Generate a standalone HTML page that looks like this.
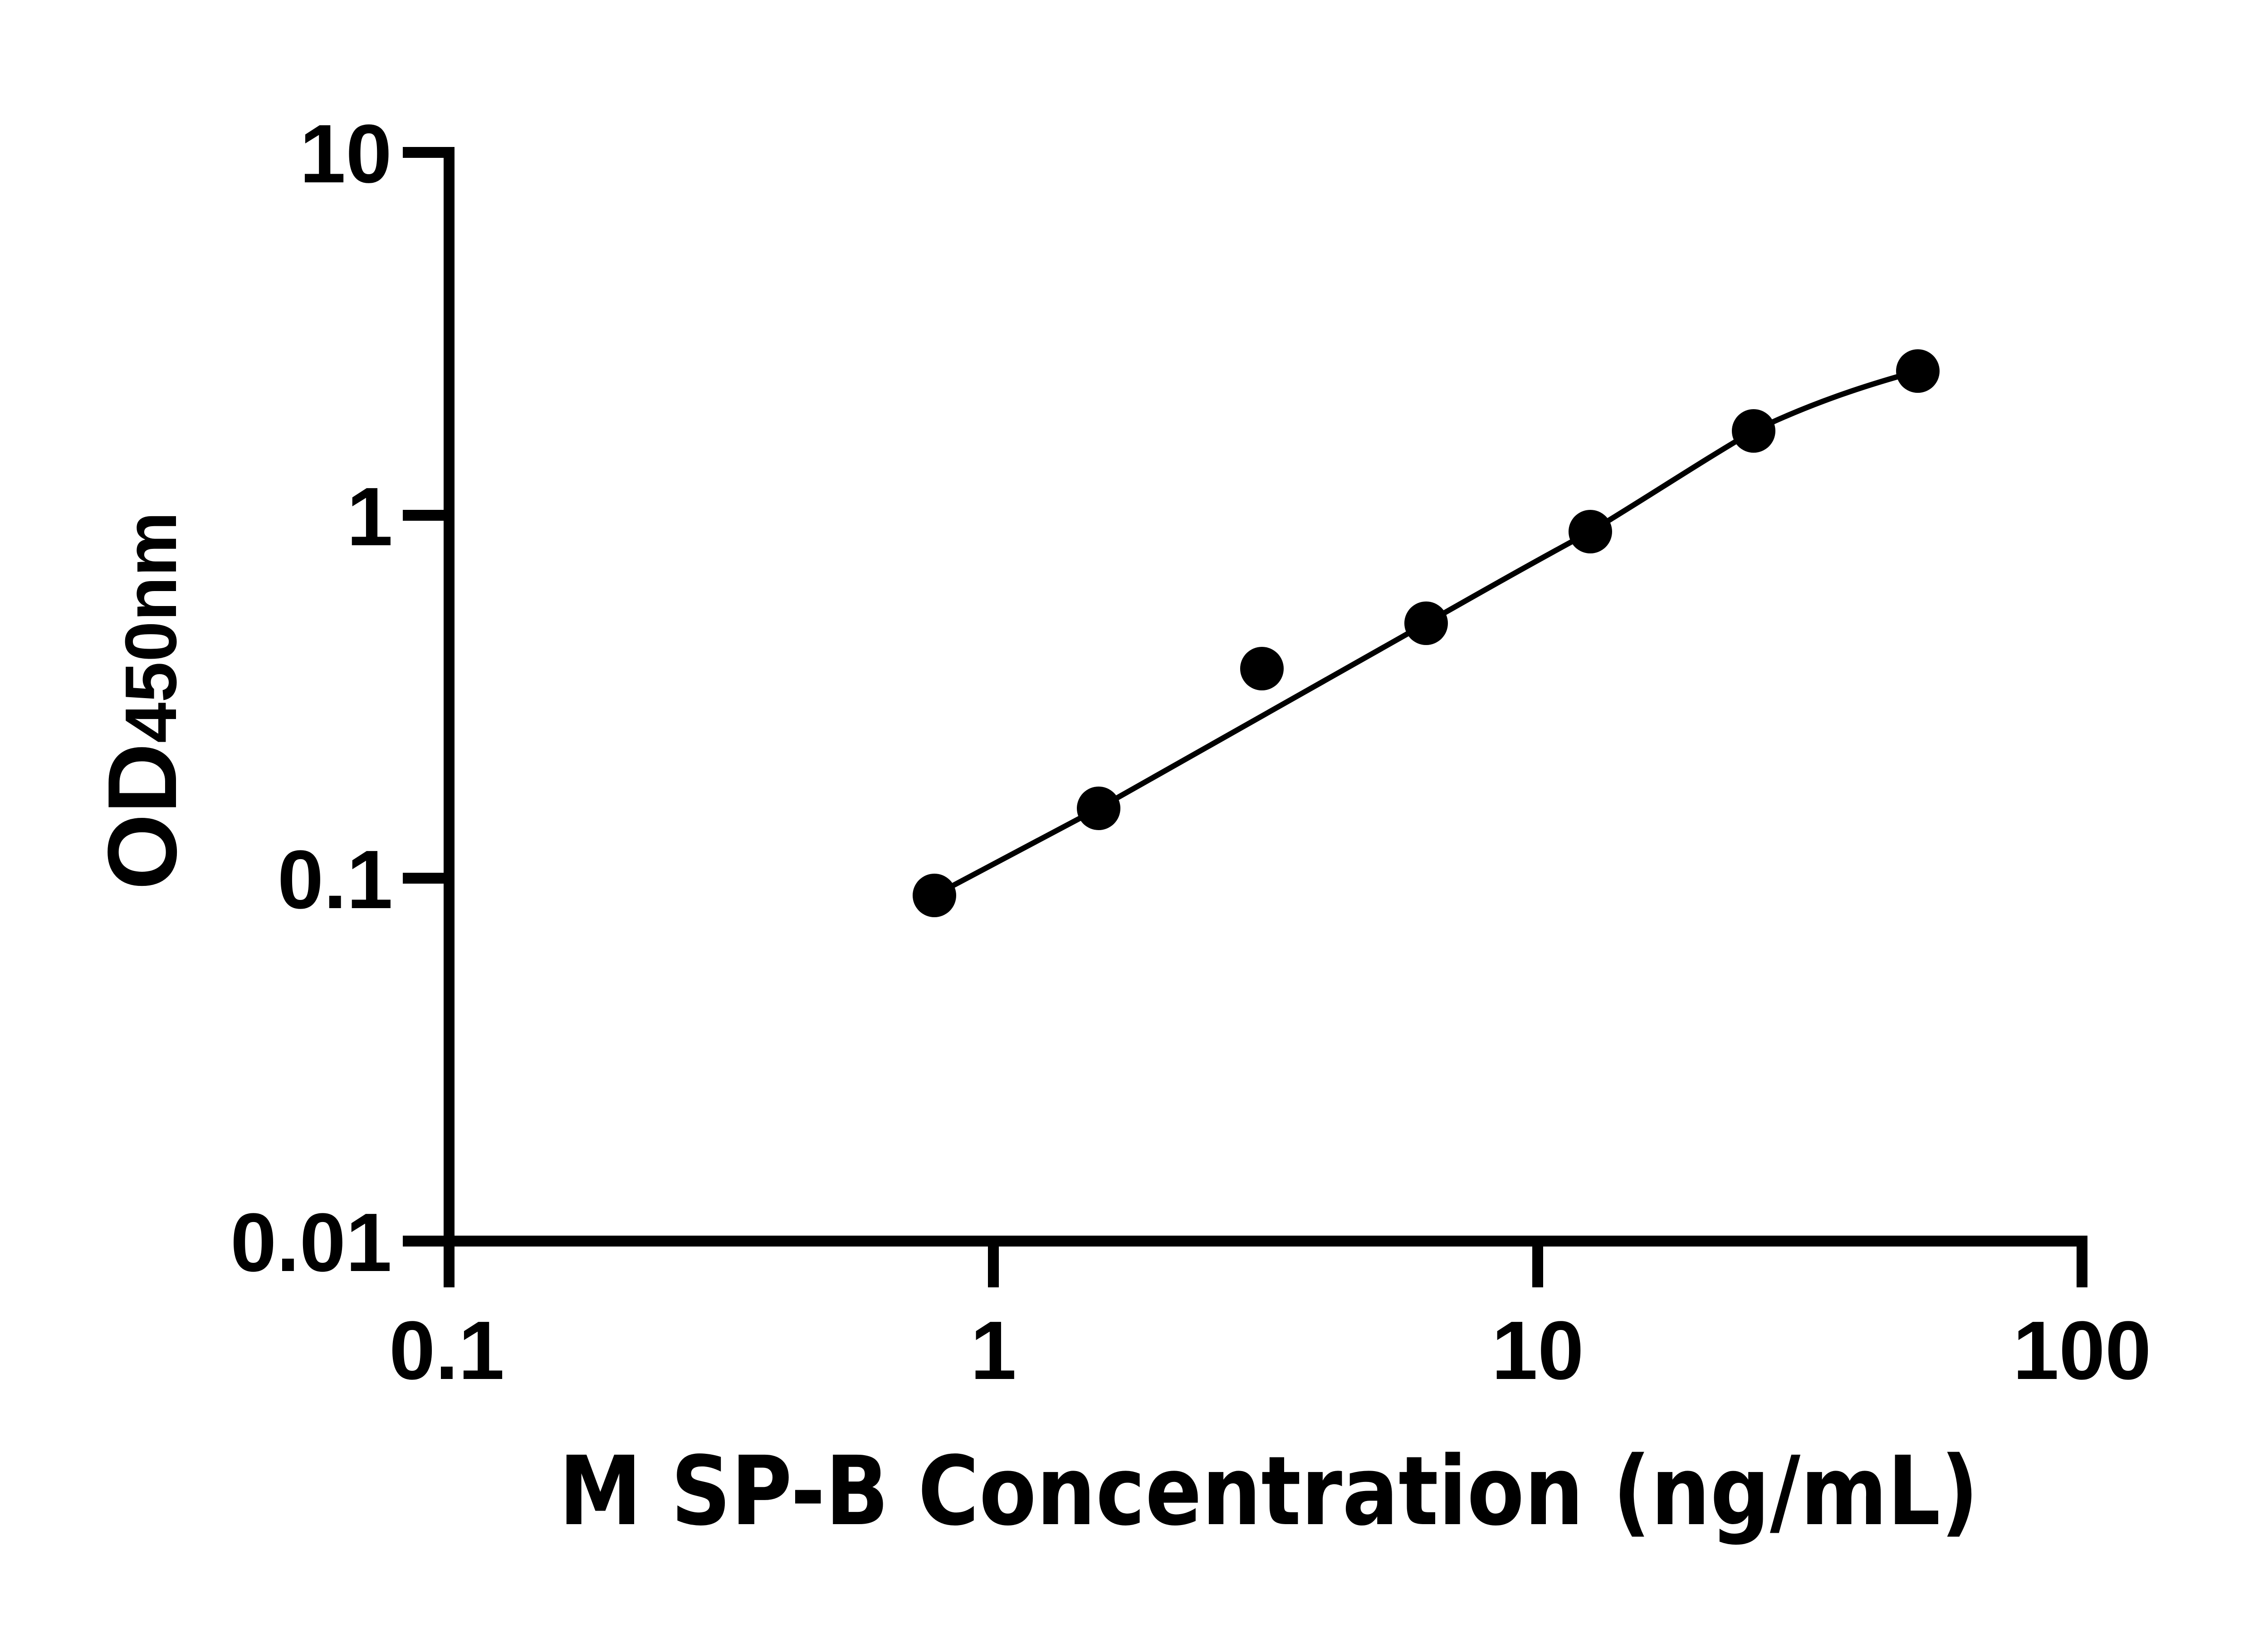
<!DOCTYPE html>
<html><head><meta charset="utf-8"><style>html,body{margin:0;padding:0;background:#fff}svg{display:block}.l{font-family:"Liberation Sans",Arial,sans-serif;font-weight:bold}.d{font-family:"DejaVu Sans",sans-serif;font-weight:bold}</style></head>
<body>
<svg width="5142" height="3600" viewBox="0 0 5142 3600" xmlns="http://www.w3.org/2000/svg">
<rect width="5142" height="3600" fill="#fff"/>
<g stroke="#000" stroke-width="24" fill="none" stroke-linecap="butt">
<line x1="990" y1="324" x2="990" y2="2748"/>
<line x1="978" y1="2736" x2="4602" y2="2736"/>
<line x1="888" y1="336" x2="1002" y2="336"/>
<line x1="888" y1="1136" x2="1002" y2="1136"/>
<line x1="888" y1="1936" x2="1002" y2="1936"/>
<line x1="888" y1="2736" x2="1002" y2="2736"/>
<line x1="990" y1="2736" x2="990" y2="2838"/>
<line x1="2190" y1="2736" x2="2190" y2="2838"/>
<line x1="3390" y1="2736" x2="3390" y2="2838"/>
<line x1="4590" y1="2736" x2="4590" y2="2838"/>
</g>
<g class="l" font-size="183" text-anchor="end" fill="#000">
<text class="l" x="864" y="402">10</text>
<text class="l" x="866" y="1202">1</text>
<text class="l" x="866" y="2002">0.1</text>
<text class="l" x="864" y="2802">0.01</text>
</g>
<g class="l" font-size="183" text-anchor="middle" fill="#000">
<text class="l" x="985" y="3040">0.1</text>
<text class="l" x="2190" y="3040">1</text>
<text class="l" x="3390" y="3040">10</text>
<text class="l" x="4590" y="3040">100</text>
</g>
<text class="d" x="2797" y="3360" font-size="210" text-anchor="middle" textLength="3130" lengthAdjust="spacingAndGlyphs" fill="#000">M SP-B Concentration (ng/mL)</text>
<text class="l" transform="translate(388,1962) rotate(-90)" fill="#000"><tspan font-size="216">OD</tspan><tspan font-size="161">450nm</tspan></text>
<path d="M2060,1974 C2180,1910 2300,1846 2422,1782 C2660,1650 2900,1510 3144,1374 C3260,1308 3380,1240 3506,1172 C3626,1100 3746,1020 3866,950 C3990,890 4110,850 4228,818" stroke="#000" stroke-width="12" fill="none"/>
<g fill="#000">
<circle cx="2060" cy="1974" r="48"/>
<circle cx="2422" cy="1782" r="48"/>
<circle cx="2782" cy="1474" r="48"/>
<circle cx="3144" cy="1374" r="48"/>
<circle cx="3506" cy="1172" r="48"/>
<circle cx="3866" cy="950" r="48"/>
<circle cx="4228" cy="818" r="48"/>
</g>
</svg>
</body></html>
